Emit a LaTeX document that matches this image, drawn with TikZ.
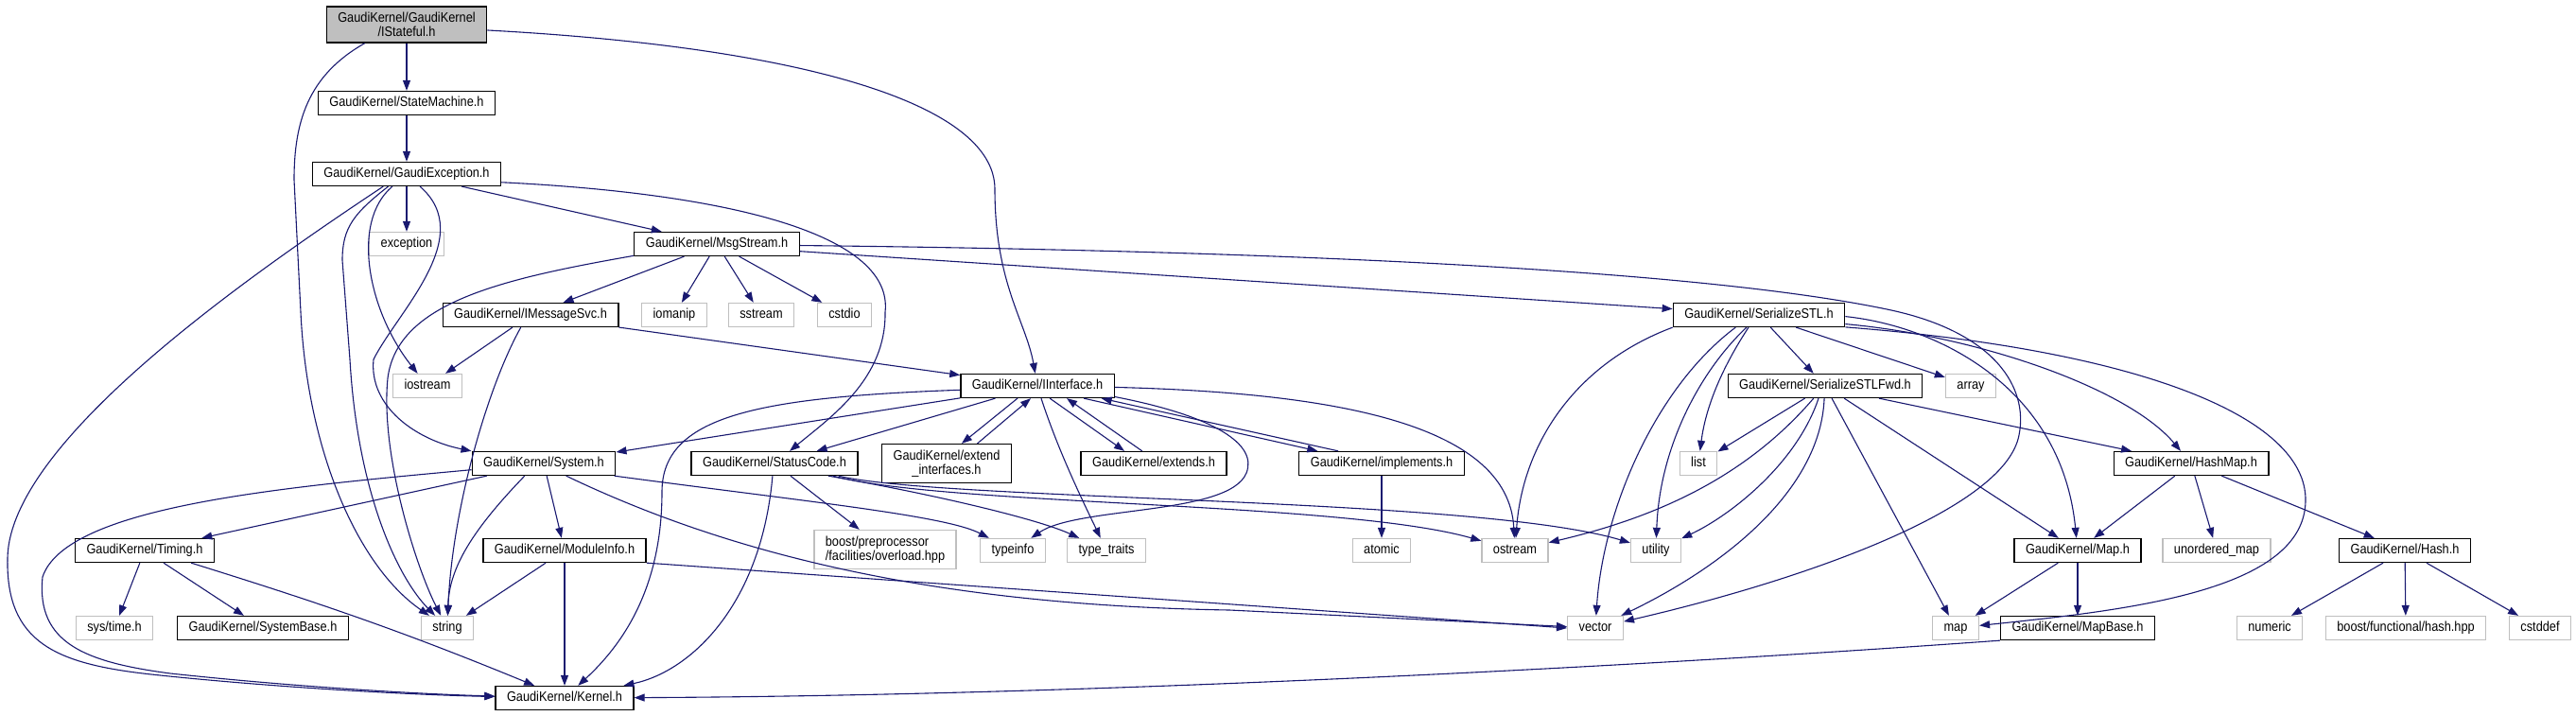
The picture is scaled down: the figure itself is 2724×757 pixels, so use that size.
\documentclass[tikz,border=0pt]{standalone}
\usepackage{fontspec}
\setmainfont{Liberation Sans}[FakeStretch=0.88]
\usetikzlibrary{arrows.meta}
\definecolor{edgeblue}{HTML}{191970}
\definecolor{extgray}{HTML}{BFBFBF}
\newcommand{\hdrfont}{\fontsize{14.5}{15.5}\selectfont}

\begin{document}
\begin{tikzpicture}[x=1pt,y=-1pt,font=\hdrfont,
  hdr/.style={draw=black,line width=1.3pt,fill=white,inner xsep=12pt,inner ysep=0pt,
    minimum height=25pt,text height=10.4pt,text depth=3pt},
  ext/.style={hdr,draw=extgray},
  two/.style={draw=black,line width=1.3pt,fill=white,inner xsep=12pt,inner ysep=6pt,align=center},
  dep/.style={draw=edgeblue,line width=1.1pt,-{Triangle[length=11pt,width=8pt]}}]
\useasboundingbox[fill=white] (0,0) rectangle (2724,757);

% headers, rank by rank
\node[two,fill=extgray] (ist) at (430,26) {GaudiKernel/GaudiKernel\\/IStateful.h};
\node[hdr] (sm) at (430,109) {GaudiKernel/StateMachine.h};
\node[hdr] (gexc) at (430,184) {GaudiKernel/GaudiException.h};
\node[ext] (exc) at (430,258) {exception};
\node[hdr] (msg) at (758,258) {GaudiKernel/MsgStream.h};
\node[hdr] (imsg) at (561,333) {GaudiKernel/IMessageSvc.h};
\node[ext] (iomanip) at (713,333) {iomanip};
\node[ext] (sstream) at (805,333) {sstream};
\node[ext] (cstdio) at (893,333) {cstdio};
\node[hdr] (sstl) at (1860,333) {GaudiKernel/SerializeSTL.h};
\node[ext] (iostream) at (452,408) {iostream};
\node[hdr] (iface) at (1097,408) {GaudiKernel/IInterface.h};
\node[hdr] (sstlfwd) at (1930,408) {GaudiKernel/SerializeSTLFwd.h};
\node[ext] (array) at (2084,408) {array};
\node[hdr] (sys) at (575,490) {GaudiKernel/System.h};
\node[hdr] (status) at (819,490) {GaudiKernel/StatusCode.h};
\node[two] (extint) at (1001,490) {GaudiKernel/extend\\\_interfaces.h};
\node[hdr] (extends) at (1220,490) {GaudiKernel/extends.h};
\node[hdr] (impl) at (1461,490) {GaudiKernel/implements.h};
\node[ext] (list) at (1796,490) {list};
\node[hdr] (hashmap) at (2317,490) {GaudiKernel/HashMap.h};
\node[hdr] (timing) at (153,582) {GaudiKernel/Timing.h};
\node[hdr] (modinfo) at (597,582) {GaudiKernel/ModuleInfo.h};
\node[two,draw=extgray,align=left] (boostpp) at (936,581) {boost/preprocessor\\/facilities/overload.hpp};
\node[ext] (typeinfo) at (1071,582) {typeinfo};
\node[ext] (typetraits) at (1170,582) {type\_traits};
\node[ext] (atomic) at (1461,582) {atomic};
\node[ext] (ostream) at (1602,582) {ostream};
\node[ext] (utility) at (1751,582) {utility};
\node[hdr] (maph) at (2197,582) {GaudiKernel/Map.h};
\node[ext] (umap) at (2344,582) {unordered\_map};
\node[hdr] (hash) at (2543,582) {GaudiKernel/Hash.h};
\node[ext] (systime) at (121,664) {sys/time.h};
\node[hdr] (sysbase) at (278,664) {GaudiKernel/SystemBase.h};
\node[ext] (string) at (473,664) {string};
\node[ext] (vector) at (1687,664) {vector};
\node[ext] (map) at (2068,664) {map};
\node[hdr] (mapbase) at (2197,664) {GaudiKernel/MapBase.h};
\node[ext] (numeric) at (2400,664) {numeric};
\node[ext] (boostfh) at (2544,664) {boost/functional/hash.hpp};
\node[ext] (cstddef) at (2686,664) {cstddef};
\node[hdr] (kernel) at (597,738) {GaudiKernel/Kernel.h};

% includes of IStateful.h, StateMachine.h, GaudiException.h
\draw[dep] (ist) -- (sm);
\draw[dep] (ist.-156) .. controls (325,80) and (311,130) .. (311,190) -- (318,330) .. controls (325,480) and (380,600) .. (string);
\draw[dep] (ist.-4) .. controls (850,50) and (1052,110) .. (1052,200) .. controls (1052,300) and (1085,340) .. (iface);
\draw[dep] (sm) -- (gexc);
\draw[dep] (gexc) -- (exc);
\draw[dep] (gexc) -- (msg);
\draw[dep] (gexc.-5) .. controls (780,205) and (945,250) .. (936,330) .. controls (937,400) and (880,440) .. (status);
\draw[dep] (gexc.-152) .. controls (250,300) and (10,470) .. (8,590) .. controls (6,680) and (60,702) .. (160,713) .. controls (300,728) and (450,735) .. (kernel);
\draw[dep] (gexc.-146) .. controls (375,225) and (362,240) .. (362,275) -- (370,380) .. controls (378,520) and (420,610) .. (string);
\draw[dep] (gexc.-139) .. controls (370,235) and (390,330) .. (iostream);
\draw[dep] (gexc.-43) .. controls (505,250) and (420,330) .. (395,380) .. controls (390,430) and (440,465) .. (sys.north west);

% MsgStream.h, IMessageSvc.h
\draw[dep] (msg.-172) .. controls (530,295) and (420,320) .. (410,400) .. controls (402,480) and (440,600) .. (string);
\draw[dep] (msg) -- (imsg);
\draw[dep] (msg) -- (iomanip);
\draw[dep] (msg) -- (sstream);
\draw[dep] (msg) -- (cstdio);
\draw[dep] (msg.-5) -- (sstl.176);
\draw[dep] (msg.-1) .. controls (1350,265) and (1800,285) .. (2000,328) .. controls (2110,352) and (2145,410) .. (2135,460) .. controls (2120,540) and (1900,615) .. (vector);
\draw[dep] (imsg) -- (iostream);
\draw[dep] (imsg.-128) .. controls (515,410) and (478,540) .. (string);
\draw[dep] (imsg) -- (iface);

% SerializeSTL.h, SerializeSTLFwd.h
\draw[dep] (sstl) -- (sstlfwd);
\draw[dep] (sstl) -- (array);
\draw[dep] (sstl.-130) .. controls (1830,375) and (1805,420) .. (list);
\draw[dep] (sstl.-135) .. controls (1800,390) and (1755,470) .. (utility);
\draw[dep] (sstl.-152) .. controls (1750,410) and (1695,540) .. (vector);
\draw[dep] (sstl.south west) .. controls (1665,385) and (1610,470) .. (ostream);
\draw[dep] (sstl.-1) .. controls (2050,345) and (2180,410) .. (maph);
\draw[dep] (sstl.-6) .. controls (2090,355) and (2250,410) .. (hashmap);
\draw[dep] (sstl.-8) .. controls (2260,370) and (2440,440) .. (2438,530) .. controls (2436,625) and (2250,645) .. (map);
\draw[dep] (sstlfwd) -- (list);
\draw[dep] (sstlfwd.-133) .. controls (1850,500) and (1760,545) .. (ostream);
\draw[dep] (sstlfwd.-118) .. controls (1900,490) and (1830,545) .. (utility);
\draw[dep] (sstlfwd.-94) .. controls (1925,520) and (1820,600) .. (vector);
\draw[dep] (sstlfwd) -- (map);
\draw[dep] (sstlfwd) -- (maph);
\draw[dep] (sstlfwd.-13) -- (hashmap);

% IInterface.h and its friends
\draw[dep] (iface.183) .. controls (800,420) and (700,440) .. (700,520) .. controls (700,620) and (660,680) .. (kernel);
\draw[dep] (iface) -- (sys);
\draw[dep] (iface) -- (status);
\draw[dep] (iface.-148) -- (extint.53);
\draw[dep] (extint.33) -- (iface.-118);
\draw[dep] (iface.-45) -- (extends.157);
\draw[dep] (extends.133) -- (iface.-23);
\draw[dep] (iface.-15) -- (impl.169);
\draw[dep] (impl.164) -- (iface.-11);
\draw[dep] (iface.-73) .. controls (1120,480) and (1150,540) .. (typetraits);
\draw[dep] (iface.-8) .. controls (1285,440) and (1330,470) .. (1318,500) .. controls (1300,545) and (1140,535) .. (typeinfo);
\draw[dep] (iface.-1) .. controls (1400,415) and (1595,445) .. (ostream);

% System.h, StatusCode.h
\draw[dep] (sys) -- (timing);
\draw[dep] (sys) -- (modinfo);
\draw[dep] (sys.-147) .. controls (500,560) and (475,600) .. (string);
\draw[dep] (sys.-29) .. controls (780,590) and (1000,640) .. (1300,645) -- (vector);
\draw[dep] (sys.-10) .. controls (850,530) and (1000,545) .. (typeinfo);
\draw[dep] (sys.185) .. controls (300,515) and (70,535) .. (45,610) .. controls (38,680) and (90,700) .. (180,712) .. controls (320,727) and (450,734) .. (kernel);
\draw[dep] (status.-99) .. controls (805,640) and (730,710) .. (kernel);
\draw[dep] (status) -- (boostpp);
\draw[dep] (status.-13) .. controls (1000,525) and (1100,550) .. (typetraits);
\draw[dep] (status.-12) .. controls (1000,535) and (1420,530) .. (ostream);
\draw[dep] (status.-11) .. controls (1000,530) and (1560,525) .. (utility);
\draw[dep] (impl) -- (atomic);

% lower ranks
\draw[dep] (hashmap) -- (maph);
\draw[dep] (hashmap) -- (umap);
\draw[dep] (hashmap) -- (hash);
\draw[dep] (maph) -- (map);
\draw[dep] (maph) -- (mapbase);
\draw[dep] (mapbase.south west) .. controls (1800,700) and (1200,735) .. (kernel);
\draw[dep] (hash) -- (numeric);
\draw[dep] (hash) -- (boostfh);
\draw[dep] (hash) -- (cstddef);
\draw[dep] (timing) -- (systime);
\draw[dep] (timing) -- (sysbase);
\draw[dep] (timing.-15) .. controls (330,635) and (420,665) .. (kernel);
\draw[dep] (modinfo) -- (string);
\draw[dep] (modinfo) -- (kernel);
\draw[dep] (modinfo.south east) -- (vector.west);
\end{tikzpicture}
\end{document}
